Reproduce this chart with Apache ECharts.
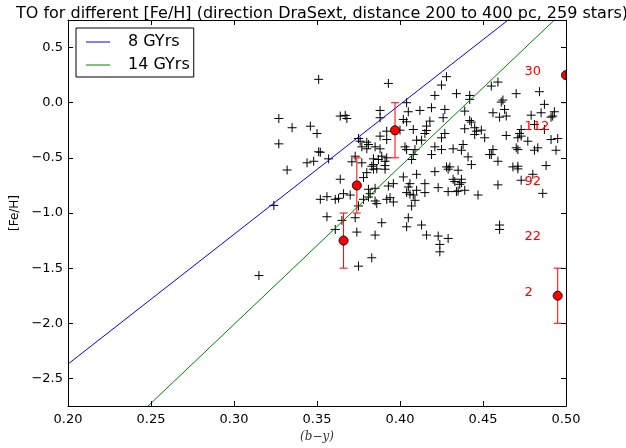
<!DOCTYPE html>
<html>
<head>
<meta charset="utf-8">
<script src="https://cdn.jsdelivr.net/npm/echarts@6/dist/echarts.min.js"></script>
<style>
  html, body { margin: 0; padding: 0; background: #fff; }
  #c2 { width: 626px; height: 448px; }
</style>
</head>
<body>
<div id="c2"></div>
<script>
// isochrone lines, endpoints at the x range edges
var isoNames = ['8 GYrs', '14 GYrs']
var iso8 = [[0.20, -2.37], [0.50, 1.16]]
var iso14 = [[0.20, -3.44], [0.50, 0.85]]

// turn-off colour per [Fe/H] bin, with star counts
var binFeh = [-1.75, -1.25, -0.75, -0.25, 0.25]
var binTO = [0.495, 0.366, 0.374, 0.397, 0.50]
var binErr = 0.25
var binCount = [2, 22, 92, 112, 30]
var countX = 0.475

var xTicks = [0.20, 0.25, 0.30, 0.35, 0.40, 0.45, 0.50]
var yTicks = [-2.5, -2.0, -1.5, -1.0, -0.5, 0.0, 0.5]

// stars: (b-y), [Fe/H]
var stars = [
  [0.351,0.212],[0.327,-0.143],[0.335,-0.227],[0.346,-0.213],[0.350,-0.279],[0.327,-0.373],
  [0.364,-0.121],[0.367,-0.115],[0.368,-0.143],[0.351,-0.445],[0.352,-0.449],[0.357,-0.509],
  [0.344,-0.545],[0.348,-0.531],[0.371,-0.536],[0.373,-0.485],[0.332,-0.61],[0.324,-0.931],
  [0.364,-0.694],[0.352,-0.876],[0.356,-0.852],[0.361,-0.876],[0.363,-0.867],[0.366,-0.825],
  [0.370,-0.837],[0.356,-1.034],[0.365,-1.067],[0.361,-1.149],[0.315,-1.567],
  [0.393,0.175],[0.428,0.236],[0.425,0.160],[0.421,0.066],[0.434,0.082],[0.404,0.0],
  [0.388,-0.070],[0.388,-0.136],[0.405,-0.082],[0.412,-0.070],[0.419,-0.045],[0.427,-0.061],
  [0.426,-0.136],[0.402,-0.152],[0.404,-0.173],[0.418,-0.167],[0.392,-0.258],[0.400,-0.249],
  [0.408,-0.243],[0.416,-0.212],[0.416,-0.252],[0.415,-0.279],[0.388,-0.303],[0.375,-0.325],
  [0.427,-0.279],[0.425,-0.318],[0.410,-0.340],[0.413,-0.340],[0.403,-0.400],[0.404,-0.425],
  [0.409,-0.425],[0.421,-0.400],[0.419,-0.470],[0.425,-0.425],[0.432,-0.418],[0.376,-0.349],
  [0.377,-0.400],[0.381,-0.379],[0.380,-0.418],[0.385,-0.400],[0.388,-0.418],[0.408,-0.470],
  [0.407,-0.515],[0.377,-0.545],[0.384,-0.509],[0.387,-0.515],[0.384,-0.561],[0.389,-0.485],
  [0.392,-0.500],[0.391,-0.531],[0.391,-0.570],[0.428,-0.582],[0.430,-0.582],[0.380,-0.358],
  [0.392,-0.334],[0.383,-0.576],[0.386,-0.600],
  [0.459,0.187],[0.455,0.151],[0.470,0.082],[0.484,0.100],[0.442,0.066],[0.442,0.030],
  [0.461,0.006],[0.462,0.024],[0.487,-0.015],[0.439,-0.076],[0.456,-0.091],[0.463,-0.061],
  [0.464,-0.121],[0.460,-0.131],[0.479,-0.113],[0.485,-0.091],[0.493,-0.082],[0.492,-0.121],
  [0.491,-0.131],[0.442,-0.161],[0.443,-0.176],[0.439,-0.236],[0.445,-0.227],[0.446,-0.258],
  [0.449,-0.249],[0.451,-0.318],[0.445,-0.288],[0.464,-0.297],[0.473,-0.243],[0.472,-0.279],
  [0.471,-0.318],[0.473,-0.303],[0.477,-0.349],[0.481,-0.197],[0.487,-0.243],[0.491,-0.334],
  [0.495,-0.325],[0.438,-0.379],[0.437,-0.431],[0.441,-0.491],[0.443,-0.561],[0.456,-0.425],
  [0.455,-0.470],[0.454,-0.470],[0.459,-0.531],[0.470,-0.409],[0.471,-0.425],[0.481,-0.431],
  [0.483,-0.409],[0.494,-0.431],[0.488,-0.570],[0.468,-0.582],[0.471,-0.576],[0.471,-0.600],
  [0.437,-0.694],[0.437,-0.725],[0.436,-0.740],[0.439,-0.794],[0.435,-0.800],[0.447,-0.837],
  [0.459,-0.745],[0.473,-0.703],[0.480,-0.649],[0.486,-0.822],[0.460,-1.109],[0.460,-1.149],
  [0.380,-0.634],[0.384,-0.603],[0.391,-0.603],[0.378,-0.679],[0.410,-0.649],[0.402,-0.673],
  [0.421,-0.625],[0.429,-0.603],[0.435,-0.612],[0.432,-0.694],[0.433,-0.715],[0.423,-0.770],
  [0.429,-0.806],[0.434,-0.806],[0.415,-0.734],[0.415,-0.815],[0.396,-0.734],[0.393,-0.755],
  [0.381,-0.785],[0.382,-0.825],[0.385,-0.776],[0.406,-0.734],[0.405,-0.764],[0.404,-0.815],
  [0.406,-0.830],[0.410,-0.794],[0.408,-0.837],[0.409,-0.885],[0.392,-0.876],[0.394,-0.861],
  [0.396,-0.900],[0.378,-0.876],[0.381,-0.855],[0.385,-0.891],[0.386,-0.915],[0.375,-0.936],
  [0.407,-0.936],[0.373,-1.043],[0.389,-1.088],[0.405,-1.043],[0.404,-1.125],[0.413,-1.109],
  [0.416,-1.200],[0.423,-1.209],[0.429,-1.231],[0.424,-1.285],[0.424,-1.352],[0.385,-1.200],
  [0.374,-1.173],[0.383,-1.406],[0.375,-1.482]
]

var FONT = 'DejaVu Sans'

function minusFmt(v, d) {
  var s = Math.abs(v).toFixed(d)
  return (v < -1e-9 ? '\u2212' : '') + s
}

function axisBase(extra) {
  var a = {
    type: 'value',
    axisLine: { show: true, onZero: false, lineStyle: { color: '#000', width: 1 } },
    axisTick: { show: true, inside: true, length: 5, lineStyle: { color: '#000' } },
    splitLine: { show: false },
    axisLabel: { show: false }
  }
  for (var k in extra) a[k] = extra[k]
  return a
}

var xLabelCfg = {
  show: true, color: '#000', fontFamily: FONT, fontSize: 13, margin: 7,
  formatter: function (v) { return minusFmt(v, 2) }
}
var yLabelCfg = {
  show: true, color: '#000', fontFamily: FONT, fontSize: 13, margin: 5,
  customValues: yTicks,
  formatter: function (v) { return minusFmt(v, 1) }
}
var yTickCfg = { show: true, inside: true, length: 5, customValues: yTicks, lineStyle: { color: '#000' } }

var bars = binTO.map(function (x, i) { return [x, binFeh[i], binErr] })
var counts = binCount.map(function (c, i) { return [countX, binFeh[i], c] })

function clamp(v, a, b) { return Math.max(a, Math.min(b, v)) }

var myChart = echarts.init(document.getElementById('c2'), null, { renderer: 'canvas' })
myChart.setOption({
  backgroundColor: '#fff',
  animation: false,
  title: {
    text: 'TO for different [Fe/H] (direction DraSext, distance 200 to 400 pc, 259 stars)',
    left: 317, top: 1, textAlign: 'center',
    textStyle: { fontFamily: FONT, fontSize: 16, fontWeight: 'normal', color: '#000' }
  },
  grid: { left: 68, right: 60, top: 20, bottom: 42, show: false },
  legend: {
    data: [
      { name: isoNames[0], icon: 'rect', itemStyle: { color: '#0000ff' } },
      { name: isoNames[1], icon: 'rect', itemStyle: { color: '#008000' } }
    ],
    orient: 'vertical',
    left: 76, top: 28,
    padding: [6, 4, 4, 10],
    itemWidth: 24, itemHeight: 1, itemGap: 7,
    backgroundColor: '#fff',
    borderColor: '#000', borderWidth: 1, borderRadius: 0,
    textStyle: { fontFamily: FONT, fontSize: 16, lineHeight: 16, color: '#000', padding: [0, 0, 0, 13] }
  },
  xAxis: [
    axisBase({ min: 0.2, max: 0.5, interval: 0.05, position: 'bottom', axisLabel: xLabelCfg, z: 10,
      name: '(b\u2212y)', nameLocation: 'middle', nameGap: 16,
      nameTextStyle: { fontFamily: 'DejaVu Serif', fontStyle: 'italic', fontSize: 12, color: '#333' } }),
    axisBase({ min: 0.2, max: 0.5, interval: 0.05, position: 'top', z: 10 })
  ],
  yAxis: [
    axisBase({ min: -2.75, max: 0.75, interval: 0.25, position: 'left', axisLabel: yLabelCfg, axisTick: yTickCfg, z: 10,
      name: '[Fe/H]', nameLocation: 'middle', nameGap: 36, nameRotate: 90,
      nameTextStyle: { fontFamily: FONT, fontSize: 12, color: '#000' } }),
    axisBase({ min: -2.75, max: 0.75, interval: 0.25, position: 'right', axisTick: yTickCfg, z: 10 })
  ],
  series: [
    {
      name: isoNames[0], type: 'line', data: iso8, symbol: 'none', clip: true,
      lineStyle: { color: '#0000ff', width: 1 }, itemStyle: { color: '#0000ff' }
    },
    {
      name: isoNames[1], type: 'line', data: iso14, symbol: 'none', clip: true,
      lineStyle: { color: '#008000', width: 1 }, itemStyle: { color: '#008000' }
    },
    {
      name: 'stars', type: 'scatter', data: stars,
      symbol: 'path://M0,5L10,5M5,0L5,10', symbolSize: 9,
      itemStyle: { color: 'transparent', borderColor: '#000', borderWidth: 1, opacity: 1 }
    },
    {
      name: 'TO', type: 'custom', clip: true, data: bars, z: 5,
      renderItem: function (params, api) {
        var x = api.value(0), y = api.value(1), e = api.value(2)
        var c = api.coord([x, y])
        var t = api.coord([x, y + e])
        var b = api.coord([x, y - e])
        var cs = params.coordSys
        var x0 = cs.x, x1 = cs.x + cs.width, y0 = cs.y, y1 = cs.y + cs.height
        var red = { stroke: '#ff0000', lineWidth: 1 }
        // marker circle, clamped to the plot box
        var pts = []
        for (var k = 0; k < 48; k++) {
          var a = k / 48 * Math.PI * 2
          pts.push([clamp(c[0] + 4.5 * Math.cos(a), x0, x1), clamp(c[1] + 4.5 * Math.sin(a), y0, y1)])
        }
        var kids = [
          { type: 'line', shape: { x1: clamp(c[0] - 4, x0, x1), y1: t[1], x2: clamp(c[0] + 4, x0, x1), y2: t[1] }, style: red },
          { type: 'line', shape: { x1: clamp(c[0] - 4, x0, x1), y1: b[1], x2: clamp(c[0] + 4, x0, x1), y2: b[1] }, style: red },
          { type: 'polygon', shape: { points: pts }, style: { fill: '#ff0000', stroke: '#000', lineWidth: 1 } }
        ]
        if (c[0] < x1 - 0.5) {
          kids.unshift({ type: 'line', shape: { x1: c[0], y1: t[1], x2: c[0], y2: b[1] }, style: red })
        }
        return { type: 'group', children: kids }
      }
    },
    {
      name: 'counts', type: 'custom', data: counts, z: 6,
      renderItem: function (params, api) {
        var p = api.coord([api.value(0), api.value(1)])
        return {
          type: 'text', x: p[0], y: p[1] + 3,
          style: { text: String(api.value(2)), fill: '#ff0000', font: '13px "DejaVu Sans"', align: 'left', verticalAlign: 'bottom' }
        }
      }
    }
  ]
})
</script>
</body>
</html>
